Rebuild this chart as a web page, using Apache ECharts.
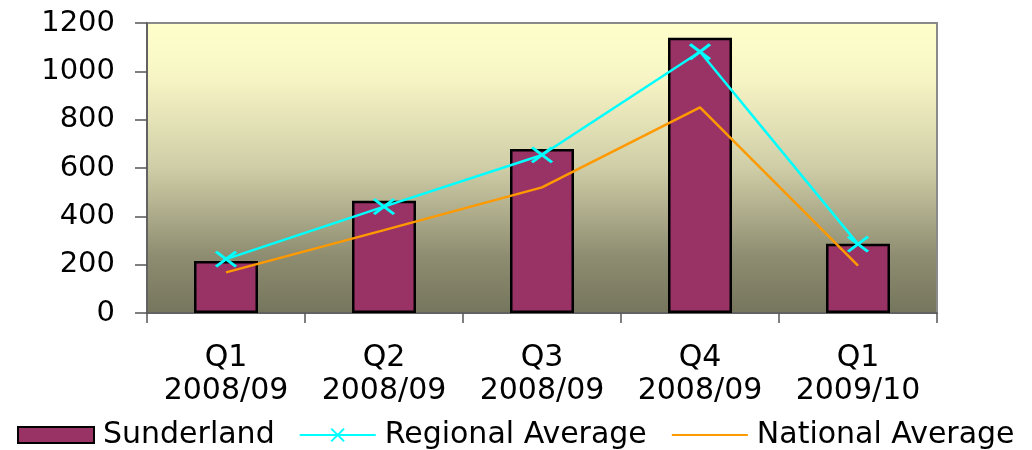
<!DOCTYPE html>
<html>
<head>
<meta charset="utf-8">
<script src="https://cdn.jsdelivr.net/npm/echarts@6/dist/echarts.min.js"></script>
<style>
html,body{margin:0;padding:0;background:#fff;}
#chart{width:1032px;height:450px;}
</style>
</head>
<body>
<div id="chart"></div>
<script>
var categories = ['Q1\n2008/09', 'Q2\n2008/09', 'Q3\n2008/09', 'Q4\n2008/09', 'Q1\n2009/10'];
var sunderland = [215, 465, 679, 1139, 287];
var regionalAverage = [223, 440, 654, 1081, 285];
var nationalAverage = [168, 343, 520, 851, 196];
var yTicks = { min: 0, max: 1200, interval: 200 };

var FONT = 'DejaVu Sans';
var xMarker = 'path://M0,0L10,10M10,0L0,10';

var chart = echarts.init(document.getElementById('chart'));
chart.setOption({
  animation: false,
  backgroundColor: '#ffffff',
  textStyle: { fontFamily: FONT, color: '#000' },
  grid: {
    left: 147, right: 95, top: 23, bottom: 137,
    show: true,
    borderColor: '#8a8a8a',
    borderWidth: 2,
    backgroundColor: new echarts.graphic.LinearGradient(0, 0, 0, 1, [
      { offset: 0, color: '#FFFFCC' },
      { offset: 0.2, color: '#F6F4C4' },
      { offset: 0.5, color: '#CFCDA6' },
      { offset: 0.8, color: '#8E8D71' },
      { offset: 1, color: '#75755D' }
    ])
  },
  legend: {
    left: 12, bottom: -5,
    itemWidth: 76, itemHeight: 16,
    itemGap: 24,
    textStyle: { fontFamily: FONT, fontSize: 30, color: '#000', padding: [0, 0, 0, 4] },
    data: [
      { name: 'Sunderland', icon: 'rect' },
      { name: 'Regional Average' },
      { name: 'National Average', itemStyle: { opacity: 0 } }
    ]
  },
  xAxis: {
    type: 'category',
    data: categories,
    boundaryGap: true,
    axisLine: { show: true, lineStyle: { color: '#555', width: 1.5 } },
    axisTick: { show: true, length: 10, lineStyle: { color: '#555', width: 1.5 } },
    axisLabel: { fontFamily: FONT, fontSize: 30, color: '#000', lineHeight: 33, margin: 29, interval: 0 },
    splitLine: { show: false }
  },
  yAxis: {
    type: 'value',
    min: yTicks.min, max: yTicks.max, interval: yTicks.interval,
    axisLine: { show: true, lineStyle: { color: '#555', width: 1.5 } },
    axisTick: { show: true, length: 12, lineStyle: { color: '#555', width: 1.5 } },
    axisLabel: { fontFamily: FONT, fontSize: 29, color: '#000', margin: 32, formatter: function (v) { return String(v); } },
    splitLine: { show: false }
  },
  series: [
    {
      name: 'Sunderland',
      type: 'bar',
      data: sunderland,
      barWidth: 64,
      itemStyle: { color: '#993366', borderColor: '#000', borderWidth: 2.5 }
    },
    {
      name: 'Regional Average',
      type: 'line',
      data: regionalAverage,
      symbol: xMarker,
      symbolSize: [20, 15],
      showAllSymbol: true,
      lineStyle: { color: '#00FFFF', width: 2.5 },
      itemStyle: { color: '#00FFFF', borderColor: '#00FFFF', borderWidth: 3 }
    },
    {
      name: 'National Average',
      type: 'line',
      data: nationalAverage,
      symbol: 'none',
      lineStyle: { color: '#FF9900', width: 2.5 },
      itemStyle: { color: '#FF9900' }
    }
  ]
});
</script>
</body>
</html>
